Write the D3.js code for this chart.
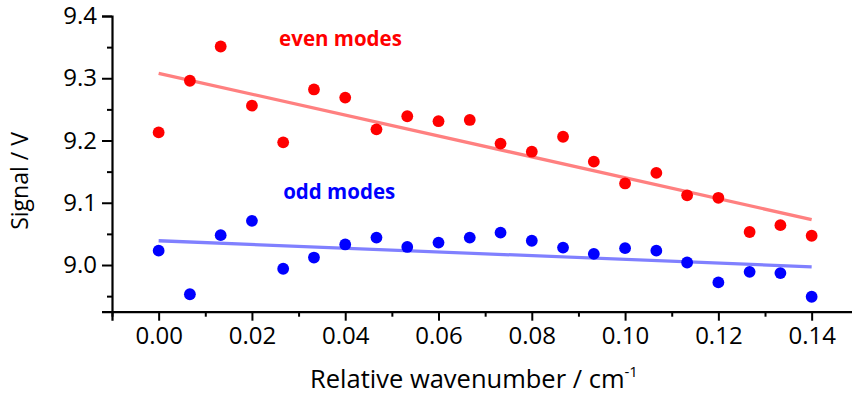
<!DOCTYPE html>
<html>
<head>
<meta charset="utf-8">
<script src="https://cdn.jsdelivr.net/npm/d3@7"></script>
<style>
  html, body { margin: 0; padding: 0; background: #fff; }
  svg { display: block; }
  text { font-family: "Open Sans", sans-serif; fill: #000; }
</style>
</head>
<body>
<svg id="chart" width="852" height="401"></svg>
<script>
// Relative wavenumber (cm^-1) of each mode
const wavenumber = [0.0000, 0.0067, 0.0133, 0.0200, 0.0267, 0.0333, 0.0400, 0.0467,
                    0.0533, 0.0600, 0.0667, 0.0733, 0.0800, 0.0867, 0.0933, 0.1000,
                    0.1067, 0.1133, 0.1200, 0.1267, 0.1333, 0.1400];
// Measured signal (V)
const evenSignal = [9.213, 9.296, 9.351, 9.256, 9.197, 9.282, 9.269, 9.218,
                    9.239, 9.231, 9.233, 9.195, 9.182, 9.206, 9.166, 9.131,
                    9.148, 9.112, 9.108, 9.053, 9.064, 9.047];
const oddSignal  = [9.023, 8.953, 9.048, 9.071, 8.994, 9.012, 9.033, 9.044,
                    9.029, 9.036, 9.044, 9.052, 9.039, 9.028, 9.018, 9.027,
                    9.023, 9.004, 8.972, 8.989, 8.987, 8.949];
// Linear fit end points [x, y]
const evenFit = [[0.00, 9.308], [0.14, 9.073]];
const oddFit  = [[0.00, 9.039], [0.14, 8.997]];
// Axis ticks
const xTicks = [0.00, 0.02, 0.04, 0.06, 0.08, 0.10, 0.12, 0.14];
const xMinorTicks = [-0.01, 0.01, 0.03, 0.05, 0.07, 0.09, 0.11, 0.13, 0.15];
const yTicks = [9.0, 9.1, 9.2, 9.3, 9.4];
const yMinorTicks = [8.95, 9.05, 9.15, 9.25, 9.35];

const svg = d3.select("#chart");

const x = d3.scaleLinear().domain([-0.01, 0.15]).range([112, 858.3]);
const y = d3.scaleLinear().domain([8.925, 9.4]).range([311.7, 16]);

const tickFont = "24px";

// Fit lines
const line = d3.line().x(d => x(d[0])).y(d => y(d[1]));
svg.append("path").datum(evenFit).attr("d", line)
  .attr("fill", "none").attr("stroke", "#ff8080").attr("stroke-width", 3.3);
svg.append("path").datum(oddFit).attr("d", line)
  .attr("fill", "none").attr("stroke", "#8080ff").attr("stroke-width", 3.3);

// Data points
svg.append("g").selectAll("circle").data(wavenumber).join("circle")
  .attr("cx", d => x(d)).attr("cy", (d, i) => y(evenSignal[i]))
  .attr("r", 5.9).attr("fill", "#ff0000");
svg.append("g").selectAll("circle").data(wavenumber).join("circle")
  .attr("cx", d => x(d)).attr("cy", (d, i) => y(oddSignal[i]))
  .attr("r", 5.9).attr("fill", "#0000ff");

// X axis
const xAxis = svg.append("g").attr("transform", `translate(0,${y(8.925)})`);
xAxis.call(d3.axisBottom(x).tickValues(xTicks).tickSize(9).tickPadding(6)
  .tickFormat(d3.format(".2f")));
xAxis.append("g").call(d3.axisBottom(x).tickValues(xMinorTicks).tickSize(5).tickFormat(""))
  .select(".domain").remove();

// Y axis
const yAxis = svg.append("g").attr("transform", `translate(${x(-0.01)},0)`);
yAxis.call(d3.axisLeft(y).tickValues(yTicks).tickSize(10).tickPadding(5)
  .tickFormat(d3.format(".1f")));
yAxis.append("g").call(d3.axisLeft(y).tickValues(yMinorTicks).tickSize(5).tickFormat(""))
  .select(".domain").remove();

svg.selectAll(".domain").attr("stroke", "#000").attr("stroke-width", 2.2);
svg.selectAll(".tick line").attr("stroke", "#000").attr("stroke-width", 2);
svg.selectAll(".tick text").style("font-family", "'Open Sans', sans-serif")
  .style("font-size", tickFont).attr("fill", "#000");

// Axis titles
const xTitle = svg.append("text")
  .attr("x", 474).attr("y", 388)
  .attr("text-anchor", "middle")
  .style("font-size", "25.5px");
xTitle.append("tspan").text("Relative wavenumber / cm");
xTitle.append("tspan").text("-1").attr("dy", -11).style("font-size", "15px");

svg.append("text")
  .attr("transform", "translate(28,181) rotate(-90)")
  .attr("text-anchor", "middle")
  .style("font-size", "23px")
  .text("Signal / V");

// Series labels
svg.append("text").attr("x", 340.5).attr("y", 46)
  .attr("text-anchor", "middle")
  .style("font-size", "20.5px").style("font-weight", "bold")
  .style("fill", "#ff0000").text("even modes");
svg.append("text").attr("x", 339.2).attr("y", 199)
  .attr("text-anchor", "middle")
  .style("font-size", "20.5px").style("font-weight", "bold")
  .style("fill", "#0000ff").text("odd modes");
</script>
</body>
</html>
